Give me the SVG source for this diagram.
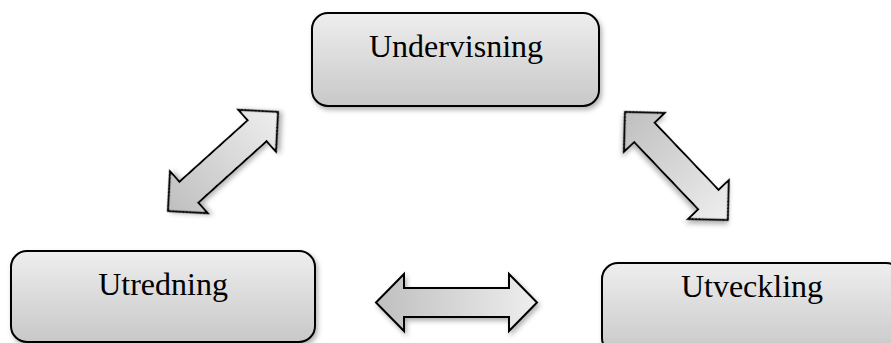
<svg xmlns="http://www.w3.org/2000/svg" width="891" height="343" viewBox="0 0 891 343">
<defs>
<linearGradient id="boxGrad" x1="0" y1="0" x2="0" y2="1">
<stop offset="0" stop-color="#eeeeee"/>
<stop offset="1" stop-color="#c8c8c8"/>
</linearGradient>
<linearGradient id="arrowGrad" x1="0" y1="0" x2="1" y2="0">
<stop offset="0" stop-color="#bfbfbf"/>
<stop offset="1" stop-color="#eeeeee"/>
</linearGradient>
<filter id="shadow" x="-20%" y="-20%" width="140%" height="150%">
<feDropShadow dx="2" dy="3" stdDeviation="2.5" flood-color="#000" flood-opacity="0.3"/>
</filter>
</defs>
<style>
.box{fill:url(#boxGrad);stroke:#000;stroke-width:2;filter:url(#shadow)}
.arrow{fill:url(#arrowGrad);stroke:#000;stroke-width:2;stroke-linejoin:miter;filter:url(#shadow)}
.label{font-family:"Liberation Serif","Times New Roman",serif;font-size:32px;fill:#000;text-anchor:middle}
</style>
<rect width="891" height="343" fill="#fff"/>
<g id="connectors">
<path class="arrow" transform="translate(168,211) rotate(-42)" d="M0,0 L28,-28 L28,-14 L120,-14 L120,-28 L148,0 L120,28 L120,14 L28,14 L28,28 Z"/>
<path class="arrow" transform="translate(625,112) rotate(46.4)" d="M0,0 L28,-28 L28,-14 L121,-14 L121,-28 L149,0 L121,28 L121,14 L28,14 L28,28 Z"/>
<path class="arrow" transform="translate(376,302.5)" d="M0,0 L28,-28.5 L28,-14.5 L133,-14.5 L133,-28.5 L161,0 L133,28.5 L133,14.5 L28,14.5 L28,28.5 Z"/>
</g>
<g id="undervisning">
<rect class="box" x="312" y="13" width="287" height="93" rx="16" ry="16"/>
<text class="label" x="456" y="57">Undervisning</text>
</g>
<g id="utredning">
<rect class="box" x="11" y="251" width="304" height="91" rx="16" ry="16"/>
<text class="label" x="163" y="295">Utredning</text>
</g>
<g id="utveckling">
<rect class="box" x="602" y="263" width="300" height="91" rx="16" ry="16"/>
<text class="label" x="752" y="297">Utveckling</text>
</g>
</svg>
